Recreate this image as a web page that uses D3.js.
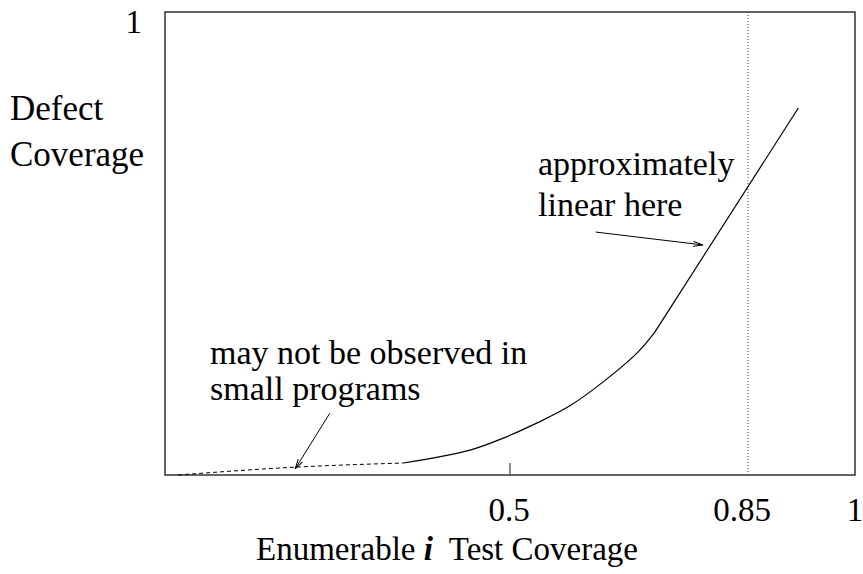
<!DOCTYPE html>
<html>
<head>
<meta charset="utf-8">
<script src="https://cdn.jsdelivr.net/npm/d3@7"></script>
<style>
  body { margin: 0; background: #fff; }
  text { font-family: "Liberation Serif", "Times New Roman", serif; font-size: 33px; fill: #000; }
  .ylab { font-size: 35px; }
  .note { font-size: 34px; }
</style>
</head>
<body>
<svg width="863" height="574"></svg>
<script>
// dashed part (small programs)
const dashX = [0.012, 0.184, 0.343];
const dashY = [0.0, 0.017, 0.026];
// curved solid part
const curveX = [0.343, 0.441, 0.490, 0.540, 0.588, 0.637, 0.687, 0.713];
const curveY = [0.026, 0.054, 0.080, 0.113, 0.150, 0.202, 0.265, 0.310];
// approximately linear part
const lineX = [0.713, 0.924];
const lineY = [0.310, 0.796];

const xTicks = [0.5, 0.85, 1];
const xTickLabels = ["0.5", "0.85", "1"];
const markerX = 0.85;

// annotation texts and arrows (data units)
const noteLinear = ["approximately", "linear here"];
const arrowLinear = [[0.626, 0.527], [0.784, 0.499]];
const noteSmall = ["may not be observed in", "small programs"];
const arrowSmall = [[0.235, 0.134], [0.184, 0.013]];

const svg = d3.select("svg");
const x = d3.scaleLinear().domain([0, 1]).range([170, 850]);
const y = d3.scaleLinear().domain([0, 1]).range([475, 14]);

svg.append("defs").append("marker")
  .attr("id", "arr")
  .attr("viewBox", "0 0 10 6")
  .attr("refX", 10).attr("refY", 3)
  .attr("markerWidth", 10).attr("markerHeight", 6)
  .attr("markerUnits", "userSpaceOnUse")
  .attr("orient", "auto")
  .append("path")
  .attr("d", "M0,0.5 L10,3 L0,5.5")
  .attr("fill", "none").attr("stroke", "#000").attr("stroke-width", 1);

// frame
svg.append("rect")
  .attr("x", x(0) - 5).attr("y", 12)
  .attr("width", x(1) - x(0) + 10).attr("height", y(0) - 12)
  .attr("fill", "none").attr("stroke", "#333").attr("stroke-width", 1.5);

// 0.85 dotted marker
svg.append("line")
  .attr("x1", x(markerX)).attr("x2", x(markerX))
  .attr("y1", 12).attr("y2", y(0))
  .attr("stroke", "#444").attr("stroke-width", 1).attr("stroke-dasharray", "1,2");

// tick at 0.5
svg.append("line")
  .attr("x1", x(0.5)).attr("x2", x(0.5))
  .attr("y1", y(0) - 12).attr("y2", y(0))
  .attr("stroke", "#444").attr("stroke-width", 1.2);

// tick labels
svg.selectAll(".xt").data(xTicks).enter().append("text")
  .attr("class", "xt")
  .attr("x", (d, i) => x(d) + (i == 0 ? -1 : i == 1 ? -6 : 5))
  .attr("y", 521)
  .attr("text-anchor", "middle")
  .text((d, i) => xTickLabels[i]);

svg.append("text").attr("x", 142).attr("y", 33).attr("text-anchor", "end").text("1");

// axis titles
svg.append("text").attr("class", "ylab").attr("x", 10).attr("y", 120).text("Defect");
svg.append("text").attr("class", "ylab").attr("x", 10).attr("y", 166).text("Coverage");

const xl = svg.append("text").attr("x", 447).attr("y", 560).attr("text-anchor", "middle");
xl.append("tspan").text("Enumerable ");
xl.append("tspan").attr("font-weight", "bold").attr("font-style", "italic").text("i");
xl.append("tspan").text("\u00a0 Test Coverage");

// curve
const line = d3.line().x(d => x(d[0])).y(d => y(d[1]));
svg.append("path")
  .datum(d3.zip(dashX, dashY))
  .attr("d", line.curve(d3.curveMonotoneX))
  .attr("fill", "none").attr("stroke", "#000").attr("stroke-width", 1)
  .attr("stroke-dasharray", "4,3");
svg.append("path")
  .datum(d3.zip(curveX, curveY))
  .attr("d", line.curve(d3.curveCatmullRom.alpha(0.5)))
  .attr("fill", "none").attr("stroke", "#000").attr("stroke-width", 1.2);
svg.append("path")
  .datum(d3.zip(lineX, lineY))
  .attr("d", line.curve(d3.curveLinear))
  .attr("fill", "none").attr("stroke", "#000").attr("stroke-width", 1.2);

// annotations
const plain = d3.line().x(d => x(d[0])).y(d => y(d[1]));
[[noteLinear, arrowLinear, 538, 175, 41], [noteSmall, arrowSmall, 210, 364, 36]].forEach(([txt, arr, tx, ty, gap]) => {
  svg.append("g").selectAll("text").data(txt).enter().append("text")
    .attr("class", "note")
    .attr("x", tx).attr("y", (d, i) => ty + i * gap)
    .text(d => d);
  svg.append("path").attr("d", plain(arr))
    .attr("fill", "none").attr("stroke", "#000").attr("stroke-width", 1)
    .attr("marker-end", "url(#arr)");
});
</script>
</body>
</html>
